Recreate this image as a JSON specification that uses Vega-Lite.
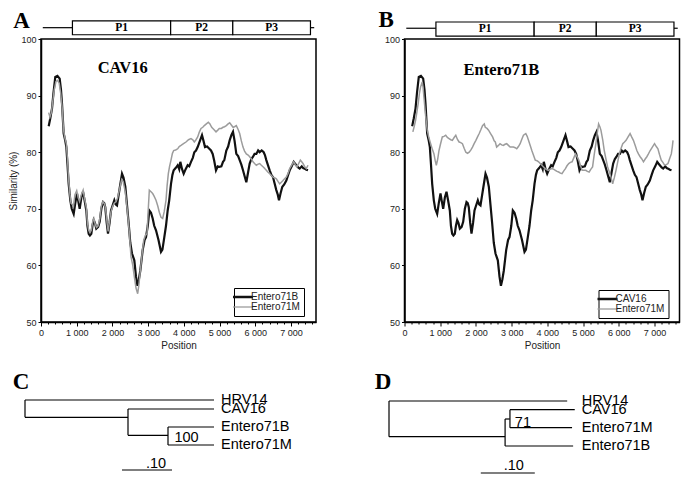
{
  "$schema": "https://vega.github.io/schema/vega-lite/v6.json",
  "padding": {"left": 8, "top": 8, "right": 5, "bottom": 5},
  "background": "#ffffff",
  "config": {
    "font": "Liberation Sans",
    "locale": {"number": {"decimal": ".", "thousands": " ", "grouping": [3], "currency": ["", ""]}},
    "view": {"stroke": null},
    "axis": {"grid": false, "labelFont": "Liberation Sans", "labelFontSize": 9, "labelColor": "#222", "domainColor": "#000", "domainWidth": 1.5, "tickColor": "#000", "tickSize": 3, "tickWidth": 1, "labelFlush": false, "labelOverlap": false, "titleFont": "Liberation Sans", "titleFontWeight": "normal", "titleFontSize": 10, "titleColor": "#222"},
    "legend": {"labelFont": "Liberation Sans", "labelFontSize": 10, "labelColor": "#222"}
  },
  "datasets": {
    "genome": [
      {"part": "5'", "kind": "line", "start": 50, "end": 880},
      {"part": "P1", "kind": "box", "start": 880, "end": 3630},
      {"part": "P2", "kind": "box", "start": 3630, "end": 5370},
      {"part": "P3", "kind": "box", "start": 5370, "end": 7545},
      {"part": "3'", "kind": "line", "start": 7545, "end": 7650}
    ],
    "cav16_e71b": [
      {"pos":215,"sim":84.6},{"pos":260,"sim":86},{"pos":308,"sim":87.7},{"pos":350,"sim":90.5},{"pos":400,"sim":93.3},{"pos":460,"sim":93.5},{"pos":523,"sim":93.0},{"pos":560,"sim":91},{"pos":588,"sim":88.6},{"pos":635,"sim":83.3},{"pos":680,"sim":82},{"pos":710,"sim":80.9},{"pos":740,"sim":78},{"pos":775,"sim":74.4},{"pos":821,"sim":71.5},{"pos":860,"sim":70},{"pos":915,"sim":69.1},{"pos":960,"sim":71},{"pos":1008,"sim":72.7},{"pos":1040,"sim":71.5},{"pos":1083,"sim":70.0},{"pos":1130,"sim":72},{"pos":1176,"sim":73.0},{"pos":1220,"sim":71.5},{"pos":1269,"sim":69.7},{"pos":1300,"sim":67},{"pos":1335,"sim":65.6},{"pos":1370,"sim":65.3},{"pos":1409,"sim":65.6},{"pos":1440,"sim":67},{"pos":1475,"sim":68.0},{"pos":1510,"sim":67.5},{"pos":1549,"sim":66.5},{"pos":1600,"sim":66.8},{"pos":1643,"sim":67.7},{"pos":1690,"sim":70},{"pos":1736,"sim":71.2},{"pos":1770,"sim":71},{"pos":1800,"sim":70.3},{"pos":1840,"sim":67.5},{"pos":1876,"sim":65.6},{"pos":1920,"sim":67.5},{"pos":1960,"sim":69.7},{"pos":2000,"sim":70.5},{"pos":2053,"sim":71.5},{"pos":2090,"sim":70.8},{"pos":2128,"sim":70.6},{"pos":2200,"sim":73.5},{"pos":2268,"sim":76.2},{"pos":2310,"sim":75.5},{"pos":2361,"sim":73.9},{"pos":2410,"sim":70.5},{"pos":2455,"sim":67.4},{"pos":2500,"sim":64},{"pos":2548,"sim":62.1},{"pos":2613,"sim":60.9},{"pos":2660,"sim":58},{"pos":2700,"sim":56.4},{"pos":2740,"sim":57.5},{"pos":2781,"sim":59.1},{"pos":2847,"sim":62.7},{"pos":2900,"sim":64.5},{"pos":2940,"sim":65.0},{"pos":2990,"sim":67},{"pos":3033,"sim":69.7},{"pos":3080,"sim":69.3},{"pos":3127,"sim":68.3},{"pos":3170,"sim":67},{"pos":3220,"sim":66.2},{"pos":3290,"sim":64.5},{"pos":3360,"sim":62.4},{"pos":3400,"sim":62.8},{"pos":3453,"sim":65.0},{"pos":3500,"sim":67},{"pos":3547,"sim":69.7},{"pos":3590,"sim":71.5},{"pos":3640,"sim":74.4},{"pos":3680,"sim":76},{"pos":3715,"sim":76.8},{"pos":3770,"sim":77.2},{"pos":3827,"sim":77.7},{"pos":3870,"sim":77},{"pos":3901,"sim":78.3},{"pos":3950,"sim":77},{"pos":3995,"sim":76.2},{"pos":4050,"sim":77},{"pos":4107,"sim":77.7},{"pos":4150,"sim":77.5},{"pos":4200,"sim":78.3},{"pos":4250,"sim":79},{"pos":4293,"sim":80.0},{"pos":4340,"sim":80.3},{"pos":4387,"sim":80.9},{"pos":4450,"sim":82},{"pos":4508,"sim":83.0},{"pos":4550,"sim":82},{"pos":4592,"sim":80.9},{"pos":4650,"sim":81},{"pos":4713,"sim":80.6},{"pos":4760,"sim":80.3},{"pos":4807,"sim":79.7},{"pos":4850,"sim":78.5},{"pos":4900,"sim":76.8},{"pos":4950,"sim":77.5},{"pos":4993,"sim":77.4},{"pos":5050,"sim":77.5},{"pos":5096,"sim":78.3},{"pos":5133,"sim":78.6},{"pos":5189,"sim":80.3},{"pos":5240,"sim":81},{"pos":5283,"sim":82.1},{"pos":5330,"sim":83},{"pos":5376,"sim":83.6},{"pos":5420,"sim":82},{"pos":5469,"sim":79.7},{"pos":5520,"sim":79.3},{"pos":5563,"sim":78.6},{"pos":5610,"sim":77.8},{"pos":5656,"sim":76.8},{"pos":5700,"sim":75.8},{"pos":5749,"sim":74.7},{"pos":5800,"sim":76.5},{"pos":5843,"sim":78.0},{"pos":5890,"sim":78.8},{"pos":5936,"sim":79.2},{"pos":5980,"sim":79.7},{"pos":6029,"sim":79.7},{"pos":6080,"sim":80.3},{"pos":6123,"sim":80.0},{"pos":6180,"sim":80.3},{"pos":6235,"sim":80.0},{"pos":6270,"sim":79.5},{"pos":6309,"sim":78.6},{"pos":6350,"sim":77.8},{"pos":6403,"sim":76.8},{"pos":6450,"sim":76},{"pos":6496,"sim":75.6},{"pos":6540,"sim":74.5},{"pos":6589,"sim":73.3},{"pos":6630,"sim":72.5},{"pos":6664,"sim":71.5},{"pos":6710,"sim":72.8},{"pos":6757,"sim":73.9},{"pos":6810,"sim":74.3},{"pos":6869,"sim":75.0},{"pos":6920,"sim":76},{"pos":6963,"sim":76.8},{"pos":7020,"sim":77.5},{"pos":7075,"sim":78.3},{"pos":7110,"sim":78},{"pos":7149,"sim":77.7},{"pos":7200,"sim":77.3},{"pos":7243,"sim":77.1},{"pos":7300,"sim":77.5},{"pos":7340,"sim":77.2},{"pos":7383,"sim":77.1},{"pos":7430,"sim":76.9},{"pos":7476,"sim":76.8}
    ],
    "cav16_e71m": [
      {"pos":215,"sim":87.0},{"pos":250,"sim":86.2},{"pos":290,"sim":87},{"pos":330,"sim":89},{"pos":370,"sim":91},{"pos":420,"sim":92.5},{"pos":467,"sim":92.7},{"pos":510,"sim":92.2},{"pos":550,"sim":90.5},{"pos":590,"sim":88},{"pos":630,"sim":84},{"pos":670,"sim":82.5},{"pos":710,"sim":81.5},{"pos":745,"sim":78.5},{"pos":775,"sim":75},{"pos":810,"sim":72.5},{"pos":840,"sim":71},{"pos":870,"sim":70.8},{"pos":910,"sim":70.5},{"pos":950,"sim":72.5},{"pos":1000,"sim":73.2},{"pos":1040,"sim":72},{"pos":1080,"sim":71.3},{"pos":1130,"sim":72.5},{"pos":1180,"sim":73.3},{"pos":1230,"sim":71.5},{"pos":1270,"sim":70.2},{"pos":1300,"sim":67.5},{"pos":1335,"sim":66.2},{"pos":1370,"sim":65.8},{"pos":1410,"sim":66.2},{"pos":1450,"sim":67.8},{"pos":1480,"sim":68.3},{"pos":1520,"sim":67.2},{"pos":1555,"sim":66.7},{"pos":1600,"sim":67},{"pos":1645,"sim":68.2},{"pos":1690,"sim":70.5},{"pos":1735,"sim":71.3},{"pos":1780,"sim":70.8},{"pos":1810,"sim":70},{"pos":1850,"sim":67.5},{"pos":1880,"sim":66},{"pos":1920,"sim":67.8},{"pos":1960,"sim":69.5},{"pos":2010,"sim":70.5},{"pos":2050,"sim":71},{"pos":2100,"sim":71.3},{"pos":2140,"sim":71.8},{"pos":2200,"sim":73.5},{"pos":2260,"sim":75.2},{"pos":2300,"sim":74.8},{"pos":2360,"sim":73},{"pos":2420,"sim":69.5},{"pos":2470,"sim":66},{"pos":2520,"sim":61.5},{"pos":2570,"sim":60},{"pos":2613,"sim":58.0},{"pos":2660,"sim":56},{"pos":2707,"sim":55.0},{"pos":2740,"sim":56.5},{"pos":2781,"sim":59.1},{"pos":2830,"sim":62},{"pos":2875,"sim":64.4},{"pos":2920,"sim":65.3},{"pos":2968,"sim":65.6},{"pos":3000,"sim":69.5},{"pos":3033,"sim":73.3},{"pos":3080,"sim":73},{"pos":3127,"sim":72.7},{"pos":3170,"sim":72.2},{"pos":3220,"sim":71.5},{"pos":3270,"sim":70.5},{"pos":3313,"sim":69.4},{"pos":3360,"sim":68.5},{"pos":3407,"sim":68.3},{"pos":3450,"sim":69.5},{"pos":3500,"sim":71.5},{"pos":3530,"sim":74},{"pos":3565,"sim":76.2},{"pos":3600,"sim":77.5},{"pos":3640,"sim":78.6},{"pos":3680,"sim":79.8},{"pos":3715,"sim":80.3},{"pos":3770,"sim":80.4},{"pos":3827,"sim":80.6},{"pos":3870,"sim":81},{"pos":3920,"sim":81.2},{"pos":3990,"sim":81.5},{"pos":4060,"sim":81.8},{"pos":4130,"sim":82.2},{"pos":4200,"sim":82.4},{"pos":4250,"sim":82.2},{"pos":4293,"sim":81.8},{"pos":4340,"sim":82.2},{"pos":4387,"sim":82.7},{"pos":4430,"sim":83.5},{"pos":4480,"sim":84.2},{"pos":4530,"sim":84.4},{"pos":4573,"sim":84.7},{"pos":4630,"sim":85},{"pos":4685,"sim":85.3},{"pos":4730,"sim":85},{"pos":4779,"sim":84.4},{"pos":4840,"sim":84},{"pos":4900,"sim":83.6},{"pos":4950,"sim":83.9},{"pos":4993,"sim":84.2},{"pos":5050,"sim":84.2},{"pos":5096,"sim":84.4},{"pos":5140,"sim":84.5},{"pos":5189,"sim":84.7},{"pos":5240,"sim":85},{"pos":5283,"sim":85.2},{"pos":5330,"sim":84.8},{"pos":5376,"sim":84.4},{"pos":5420,"sim":84.5},{"pos":5469,"sim":84.7},{"pos":5520,"sim":84},{"pos":5563,"sim":83.3},{"pos":5610,"sim":82},{"pos":5656,"sim":80.9},{"pos":5700,"sim":80.2},{"pos":5749,"sim":79.7},{"pos":5800,"sim":79.5},{"pos":5843,"sim":79.2},{"pos":5890,"sim":78.8},{"pos":5936,"sim":78.3},{"pos":5980,"sim":78},{"pos":6029,"sim":77.7},{"pos":6080,"sim":77.9},{"pos":6123,"sim":78.0},{"pos":6170,"sim":77.7},{"pos":6224,"sim":77.4},{"pos":6265,"sim":77.1},{"pos":6309,"sim":76.8},{"pos":6350,"sim":76.5},{"pos":6403,"sim":76.2},{"pos":6450,"sim":75.9},{"pos":6496,"sim":75.6},{"pos":6540,"sim":75.5},{"pos":6589,"sim":75.3},{"pos":6640,"sim":74.8},{"pos":6683,"sim":74.4},{"pos":6730,"sim":74.7},{"pos":6776,"sim":75.0},{"pos":6820,"sim":75.3},{"pos":6869,"sim":75.6},{"pos":6920,"sim":76.3},{"pos":6963,"sim":77.1},{"pos":7020,"sim":77.7},{"pos":7075,"sim":78.3},{"pos":7120,"sim":77.8},{"pos":7168,"sim":77.4},{"pos":7215,"sim":78},{"pos":7261,"sim":78.6},{"pos":7300,"sim":78.3},{"pos":7336,"sim":78.0},{"pos":7380,"sim":77.5},{"pos":7429,"sim":77.1},{"pos":7476,"sim":77.7}
    ],
    "e71b_e71m": [
      {"pos":234,"sim":83.6},{"pos":270,"sim":84.5},{"pos":309,"sim":85.6},{"pos":345,"sim":87},{"pos":383,"sim":88.6},{"pos":420,"sim":90.5},{"pos":450,"sim":91.5},{"pos":496,"sim":92.4},{"pos":520,"sim":91.5},{"pos":543,"sim":89.8},{"pos":590,"sim":86.5},{"pos":637,"sim":83.9},{"pos":685,"sim":82.5},{"pos":732,"sim":81.5},{"pos":780,"sim":80.5},{"pos":825,"sim":79.7},{"pos":860,"sim":78.5},{"pos":891,"sim":77.7},{"pos":930,"sim":78.8},{"pos":966,"sim":80.3},{"pos":1010,"sim":81.5},{"pos":1059,"sim":82.7},{"pos":1105,"sim":82.8},{"pos":1154,"sim":83.0},{"pos":1200,"sim":82.6},{"pos":1247,"sim":82.4},{"pos":1295,"sim":82.2},{"pos":1340,"sim":82.1},{"pos":1390,"sim":82.6},{"pos":1436,"sim":83.0},{"pos":1480,"sim":82.3},{"pos":1529,"sim":81.8},{"pos":1575,"sim":81.7},{"pos":1622,"sim":81.5},{"pos":1670,"sim":80.7},{"pos":1718,"sim":80.0},{"pos":1765,"sim":79.8},{"pos":1811,"sim":80.0},{"pos":1860,"sim":80.4},{"pos":1904,"sim":80.9},{"pos":1950,"sim":81.5},{"pos":1999,"sim":82.1},{"pos":2045,"sim":82.7},{"pos":2092,"sim":83.3},{"pos":2140,"sim":84},{"pos":2185,"sim":84.7},{"pos":2233,"sim":85.0},{"pos":2261,"sim":84.4},{"pos":2310,"sim":84.2},{"pos":2354,"sim":83.9},{"pos":2410,"sim":83.3},{"pos":2467,"sim":82.7},{"pos":2510,"sim":82},{"pos":2543,"sim":81.8},{"pos":2580,"sim":80.9},{"pos":2630,"sim":81.2},{"pos":2675,"sim":81.5},{"pos":2720,"sim":81.3},{"pos":2768,"sim":81.2},{"pos":2815,"sim":81.4},{"pos":2861,"sim":81.5},{"pos":2910,"sim":81.2},{"pos":2957,"sim":80.9},{"pos":3000,"sim":80.9},{"pos":3050,"sim":80.9},{"pos":3100,"sim":80.8},{"pos":3143,"sim":80.6},{"pos":3190,"sim":81},{"pos":3238,"sim":81.5},{"pos":3285,"sim":82.3},{"pos":3331,"sim":83.0},{"pos":3396,"sim":83.3},{"pos":3435,"sim":82.8},{"pos":3472,"sim":82.1},{"pos":3520,"sim":81.2},{"pos":3565,"sim":80.3},{"pos":3610,"sim":79.5},{"pos":3661,"sim":78.6},{"pos":3710,"sim":78.5},{"pos":3754,"sim":78.3},{"pos":3800,"sim":78},{"pos":3847,"sim":77.7},{"pos":3895,"sim":77.4},{"pos":3942,"sim":77.1},{"pos":3990,"sim":76.9},{"pos":4035,"sim":76.8},{"pos":4080,"sim":77},{"pos":4128,"sim":77.1},{"pos":4175,"sim":77},{"pos":4224,"sim":76.8},{"pos":4270,"sim":76.6},{"pos":4317,"sim":76.5},{"pos":4365,"sim":76.3},{"pos":4410,"sim":76.2},{"pos":4460,"sim":76.7},{"pos":4506,"sim":77.1},{"pos":4550,"sim":77.6},{"pos":4599,"sim":78.0},{"pos":4645,"sim":78.2},{"pos":4692,"sim":78.3},{"pos":4740,"sim":79},{"pos":4787,"sim":79.7},{"pos":4830,"sim":79.2},{"pos":4880,"sim":78.6},{"pos":4925,"sim":77.7},{"pos":4973,"sim":76.8},{"pos":5020,"sim":76.8},{"pos":5077,"sim":76.8},{"pos":5120,"sim":76.6},{"pos":5170,"sim":76.5},{"pos":5220,"sim":77},{"pos":5266,"sim":77.4},{"pos":5310,"sim":79.5},{"pos":5359,"sim":81.5},{"pos":5400,"sim":83.5},{"pos":5435,"sim":85.0},{"pos":5470,"sim":84.5},{"pos":5500,"sim":83.9},{"pos":5550,"sim":82.2},{"pos":5593,"sim":80.3},{"pos":5640,"sim":78.8},{"pos":5688,"sim":77.4},{"pos":5735,"sim":76.5},{"pos":5781,"sim":75.6},{"pos":5829,"sim":74.4},{"pos":5875,"sim":75.5},{"pos":5922,"sim":76.8},{"pos":5970,"sim":78.3},{"pos":6015,"sim":79.7},{"pos":6060,"sim":80.6},{"pos":6111,"sim":81.5},{"pos":6160,"sim":81.8},{"pos":6204,"sim":82.1},{"pos":6260,"sim":82.7},{"pos":6316,"sim":83.3},{"pos":6360,"sim":82.7},{"pos":6409,"sim":82.1},{"pos":6460,"sim":81.2},{"pos":6505,"sim":80.3},{"pos":6550,"sim":79.7},{"pos":6598,"sim":79.2},{"pos":6645,"sim":78.8},{"pos":6691,"sim":78.3},{"pos":6740,"sim":78.8},{"pos":6786,"sim":79.2},{"pos":6830,"sim":79.7},{"pos":6879,"sim":80.3},{"pos":6940,"sim":80.9},{"pos":7001,"sim":81.5},{"pos":7050,"sim":81},{"pos":7096,"sim":80.6},{"pos":7140,"sim":79.6},{"pos":7189,"sim":78.6},{"pos":7235,"sim":78.2},{"pos":7282,"sim":77.7},{"pos":7330,"sim":77.8},{"pos":7378,"sim":78.0},{"pos":7420,"sim":78.8},{"pos":7471,"sim":79.7},{"pos":7500,"sim":81},{"pos":7519,"sim":82.1}
    ],
    "treeC_branches": [
      {"x":0,"x2":0.378,"y":0,"y2":0},
      {"x":0,"x2":0,"y":0,"y2":0.96},
      {"x":0,"x2":0.206,"y":0.96,"y2":0.96},
      {"x":0.206,"x2":0.206,"y":0.5,"y2":1.96},
      {"x":0.206,"x2":0.378,"y":0.5,"y2":0.5},
      {"x":0.206,"x2":0.286,"y":1.96,"y2":1.96},
      {"x":0.286,"x2":0.286,"y":1.5,"y2":2.5},
      {"x":0.286,"x2":0.378,"y":1.5,"y2":1.5},
      {"x":0.286,"x2":0.378,"y":2.5,"y2":2.5}
    ],
    "treeC_leaves": [
      {"taxon":"HRV14","row":0},{"taxon":"CAV16","row":0.5},{"taxon":"Entero71B","row":1.5},{"taxon":"Entero71M","row":2.5}
    ],
    "treeD_branches": [
      {"x":0,"x2":0.330,"y":0,"y2":0},
      {"x":0,"x2":0,"y":0,"y2":1.98},
      {"x":0,"x2":0.215,"y":1.98,"y2":1.98},
      {"x":0.215,"x2":0.215,"y":1.0,"y2":2.5},
      {"x":0.215,"x2":0.224,"y":1.0,"y2":1.0},
      {"x":0.224,"x2":0.224,"y":0.48,"y2":1.48},
      {"x":0.224,"x2":0.344,"y":0.48,"y2":0.48},
      {"x":0.224,"x2":0.339,"y":1.48,"y2":1.48},
      {"x":0.215,"x2":0.341,"y":2.5,"y2":2.5}
    ],
    "treeD_leaves": [
      {"taxon":"HRV14","row":0},{"taxon":"CAV16","row":0.48},{"taxon":"Entero71M","row":1.48},{"taxon":"Entero71B","row":2.5}
    ]
  },
  "columns": 2,
  "spacing": {"row": 49, "column": 88.5},
  "bounds": "flush",
  "align": "each",
  "concat": [
    {
      "width": 275, "height": 283,
      "view": {"stroke": "#000", "strokeWidth": 1.5},
      "resolve": {"axis": {"x": "independent"}},
      "layer": [
        {
          "data": {"name": "cav16_e71b"},
          "mark": {"type": "line", "strokeWidth": 2.2, "clip": true},
          "encoding": {
            "x": {"field": "pos", "type": "quantitative", "scale": {"domain": [0, 7700], "nice": false, "zero": false},
                  "axis": {"orient": "bottom", "title": "Position", "format": ",d", "labelOverlap": false, "tickCount": 8, "tickSize": 4, "labelPadding": 2, "titlePadding": 3}},
            "y": {"field": "sim", "type": "quantitative", "scale": {"domain": [50, 100], "nice": false, "zero": false},
                  "axis": {"title": "Similarity (%)", "labelOverlap": false, "values": [50,55,60,65,70,75,80,85,90,95,100], "labelExpr": "datum.value % 10 === 0 ? datum.label : ''", "labelPadding": 2, "titlePadding": 2}},
            "color": {"datum": "Entero71B", "type": "nominal",
                      "scale": {"domain": ["Entero71B", "Entero71M"], "range": ["#111111", "#9c9c9c"]},
                      "legend": {"title": null, "orient": "none", "legendX": 193, "legendY": 249, "symbolType": "stroke", "symbolSize": 400, "symbolStrokeWidth": 2, "padding": 4, "rowPadding": 0, "labelOffset": 3, "strokeColor": "#000", "fillColor": "#fff",
                                 "encode": {"symbols": {"update": {"strokeWidth": {"signal": "datum.value === 'Entero71M' ? 1.3 : 2.5"}}}}}}
          }
        },
        {
          "data": {"name": "cav16_e71m"},
          "mark": {"type": "line", "strokeWidth": 1.5, "clip": true},
          "encoding": {
            "x": {"field": "pos", "type": "quantitative",
                  "axis": {"orient": "bottom", "title": null, "labels": false, "domain": false, "tickSize": 2, "values": [200,400,600,800,1200,1400,1600,1800,2200,2400,2600,2800,3200,3400,3600,3800,4200,4400,4600,4800,5200,5400,5600,5800,6200,6400,6600,6800,7200,7400,7600]}},
            "y": {"field": "sim", "type": "quantitative"},
            "color": {"datum": "Entero71M", "type": "nominal"}
          }
        },
        {
          "data": {"name": "genome"},
          "transform": [{"filter": "datum.kind === 'line'"}],
          "mark": {"type": "rule", "color": "#000", "strokeWidth": 1.2, "clip": false},
          "encoding": {"x": {"field": "start", "type": "quantitative", "axis": null}, "x2": {"field": "end"}, "y": {"datum": 102.0, "type": "quantitative"}}
        },
        {
          "data": {"name": "genome"},
          "transform": [{"filter": "datum.kind === 'box'"}],
          "mark": {"type": "rect", "fill": "#fff", "stroke": "#000", "strokeWidth": 1.2, "clip": false},
          "encoding": {"x": {"field": "start", "type": "quantitative", "axis": null}, "x2": {"field": "end"}, "y": {"datum": 100.75, "type": "quantitative"}, "y2": {"datum": 103.2}}
        },
        {
          "data": {"name": "genome"},
          "transform": [{"filter": "datum.kind === 'box'"}, {"calculate": "(datum.start + datum.end) / 2", "as": "mid"}],
          "mark": {"type": "text", "font": "Liberation Serif", "fontWeight": "bold", "fontSize": 11.5, "color": "#000", "baseline": "middle", "clip": false},
          "encoding": {"x": {"field": "mid", "type": "quantitative", "axis": null}, "y": {"datum": 101.95, "type": "quantitative"}, "text": {"field": "part"}}
        },
        {
          "data": {"values": [{}]},
          "mark": {"type": "text", "font": "Liberation Serif", "fontWeight": "bold", "fontSize": 23, "color": "#000", "baseline": "middle", "clip": false},
          "encoding": {"x": {"datum": -546, "type": "quantitative", "axis": null}, "y": {"datum": 103.2, "type": "quantitative"}, "text": {"value": "A"}}
        },
        {
          "data": {"values": [{}]},
          "mark": {"type": "text", "font": "Liberation Serif", "fontWeight": "bold", "fontSize": 16.5, "color": "#000", "baseline": "middle"},
          "encoding": {"x": {"datum": 2288, "type": "quantitative", "axis": null}, "y": {"datum": 94.9, "type": "quantitative"}, "text": {"value": "CAV16"}}
        }
      ]
    },
    {
      "width": 275, "height": 283,
      "view": {"stroke": "#000", "strokeWidth": 1.5},
      "resolve": {"axis": {"x": "independent"}},
      "layer": [
        {
          "data": {"name": "cav16_e71b"},
          "mark": {"type": "line", "strokeWidth": 2.2, "clip": true},
          "encoding": {
            "x": {"field": "pos", "type": "quantitative", "scale": {"domain": [0, 7700], "nice": false, "zero": false},
                  "axis": {"orient": "bottom", "title": "Position", "format": ",d", "labelOverlap": false, "tickCount": 8, "tickSize": 4, "labelPadding": 2, "titlePadding": 3}},
            "y": {"field": "sim", "type": "quantitative", "scale": {"domain": [50, 100], "nice": false, "zero": false},
                  "axis": {"title": "", "labelOverlap": false, "values": [50,55,60,65,70,75,80,85,90,95,100], "labelExpr": "datum.value % 10 === 0 ? datum.label : ''", "labelPadding": 2}},
            "color": {"datum": "CAV16", "type": "nominal",
                      "scale": {"domain": ["CAV16", "Entero71M"], "range": ["#111111", "#9c9c9c"]},
                      "legend": {"title": null, "orient": "none", "legendX": 194, "legendY": 251, "symbolType": "stroke", "symbolSize": 400, "symbolStrokeWidth": 2, "padding": 4, "rowPadding": 0, "labelOffset": 3, "strokeColor": "#000", "fillColor": "#fff",
                                 "encode": {"symbols": {"update": {"strokeWidth": {"signal": "datum.value === 'Entero71M' ? 1.3 : 2.5"}}}}}}
          }
        },
        {
          "data": {"name": "e71b_e71m"},
          "mark": {"type": "line", "strokeWidth": 1.5, "clip": true},
          "encoding": {
            "x": {"field": "pos", "type": "quantitative",
                  "axis": {"orient": "bottom", "title": null, "labels": false, "domain": false, "tickSize": 2, "values": [200,400,600,800,1200,1400,1600,1800,2200,2400,2600,2800,3200,3400,3600,3800,4200,4400,4600,4800,5200,5400,5600,5800,6200,6400,6600,6800,7200,7400,7600]}},
            "y": {"field": "sim", "type": "quantitative"},
            "color": {"datum": "Entero71M", "type": "nominal"}
          }
        },
        {
          "data": {"name": "genome"},
          "transform": [{"filter": "datum.kind === 'line'"}],
          "mark": {"type": "rule", "color": "#000", "strokeWidth": 1.2, "clip": false},
          "encoding": {"x": {"field": "start", "type": "quantitative", "axis": null}, "x2": {"field": "end"}, "y": {"datum": 101.9, "type": "quantitative"}}
        },
        {
          "data": {"name": "genome"},
          "transform": [{"filter": "datum.kind === 'box'"}],
          "mark": {"type": "rect", "fill": "#fff", "stroke": "#000", "strokeWidth": 1.2, "clip": false},
          "encoding": {"x": {"field": "start", "type": "quantitative", "axis": null}, "x2": {"field": "end"}, "y": {"datum": 100.5, "type": "quantitative"}, "y2": {"datum": 103.0}}
        },
        {
          "data": {"name": "genome"},
          "transform": [{"filter": "datum.kind === 'box'"}, {"calculate": "(datum.start + datum.end) / 2", "as": "mid"}],
          "mark": {"type": "text", "font": "Liberation Serif", "fontWeight": "bold", "fontSize": 11.5, "color": "#000", "baseline": "middle", "clip": false},
          "encoding": {"x": {"field": "mid", "type": "quantitative", "axis": null}, "y": {"datum": 101.75, "type": "quantitative"}, "text": {"field": "part"}}
        },
        {
          "data": {"values": [{}]},
          "mark": {"type": "text", "font": "Liberation Serif", "fontWeight": "bold", "fontSize": 23, "color": "#000", "baseline": "middle", "clip": false},
          "encoding": {"x": {"datum": -512, "type": "quantitative", "axis": null}, "y": {"datum": 103.3, "type": "quantitative"}, "text": {"value": "B"}}
        },
        {
          "data": {"values": [{}]},
          "mark": {"type": "text", "font": "Liberation Serif", "fontWeight": "bold", "fontSize": 16.5, "color": "#000", "baseline": "middle"},
          "encoding": {"x": {"datum": 2712, "type": "quantitative", "axis": null}, "y": {"datum": 94.6, "type": "quantitative"}, "text": {"value": "Entero71B"}}
        }
      ]
    },
    {
      "width": 275, "height": 105,
      "layer": [
        {
          "data": {"name": "treeC_branches"},
          "mark": {"type": "rule", "color": "#000", "strokeWidth": 1.2},
          "encoding": {
            "x": {"field": "x", "type": "quantitative", "scale": {"domain": [0.032, 0.582], "nice": false, "zero": false}, "axis": null},
            "x2": {"field": "x2"},
            "y": {"field": "y", "type": "quantitative", "scale": {"domain": [-1.611, 4.222], "reverse": true, "nice": false, "zero": false}, "axis": null},
            "y2": {"field": "y2"}
          }
        },
        {
          "data": {"name": "treeC_leaves"},
          "mark": {"type": "text", "align": "left", "baseline": "middle", "font": "Liberation Sans", "fontSize": 14.5, "color": "#000"},
          "encoding": {"x": {"datum": 0.392, "type": "quantitative", "axis": null}, "y": {"field": "row", "type": "quantitative", "axis": null}, "text": {"field": "taxon"}}
        },
        {
          "data": {"values": [{"node": "Entero71B+Entero71M", "support": "100"}]},
          "mark": {"type": "text", "align": "center", "baseline": "middle", "font": "Liberation Sans", "fontSize": 14.5, "color": "#000"},
          "encoding": {"x": {"datum": 0.323, "type": "quantitative", "axis": null}, "y": {"datum": 2.1, "type": "quantitative", "axis": null}, "text": {"field": "support"}}
        },
        {
          "data": {"values": [{}]},
          "mark": {"type": "rule", "color": "#000", "strokeWidth": 1.2},
          "encoding": {"x": {"datum": 0.194, "type": "quantitative", "axis": null}, "x2": {"datum": 0.294}, "y": {"datum": 3.89, "type": "quantitative", "axis": null}}
        },
        {
          "data": {"values": [{}]},
          "mark": {"type": "text", "align": "center", "baseline": "middle", "font": "Liberation Sans", "fontSize": 14.5, "color": "#000"},
          "encoding": {"x": {"datum": 0.262, "type": "quantitative", "axis": null}, "y": {"datum": 3.56, "type": "quantitative", "axis": null}, "text": {"value": ".10"}}
        },
        {
          "data": {"values": [{}]},
          "mark": {"type": "text", "align": "center", "baseline": "middle", "font": "Liberation Serif", "fontWeight": "bold", "fontSize": 23, "color": "#000"},
          "encoding": {"x": {"datum": -0.008, "type": "quantitative", "axis": null}, "y": {"datum": -1.0, "type": "quantitative", "axis": null}, "text": {"value": "C"}}
        }
      ]
    },
    {
      "width": 275, "height": 105,
      "layer": [
        {
          "data": {"name": "treeD_branches"},
          "mark": {"type": "rule", "color": "#000", "strokeWidth": 1.2},
          "encoding": {
            "x": {"field": "x", "type": "quantitative", "scale": {"domain": [0.0287, 0.5380], "nice": false, "zero": false}, "axis": null},
            "x2": {"field": "x2"},
            "y": {"field": "y", "type": "quantitative", "scale": {"domain": [-1.667, 4.167], "reverse": true, "nice": false, "zero": false}, "axis": null},
            "y2": {"field": "y2"}
          }
        },
        {
          "data": {"name": "treeD_leaves"},
          "mark": {"type": "text", "align": "left", "baseline": "middle", "font": "Liberation Sans", "fontSize": 14.5, "color": "#000"},
          "encoding": {"x": {"datum": 0.357, "type": "quantitative", "axis": null}, "y": {"field": "row", "type": "quantitative", "axis": null}, "text": {"field": "taxon"}}
        },
        {
          "data": {"values": [{"node": "CAV16+Entero71M", "support": "71"}]},
          "mark": {"type": "text", "align": "center", "baseline": "middle", "font": "Liberation Sans", "fontSize": 14.5, "color": "#000"},
          "encoding": {"x": {"datum": 0.248, "type": "quantitative", "axis": null}, "y": {"datum": 1.22, "type": "quantitative", "axis": null}, "text": {"field": "support"}}
        },
        {
          "data": {"values": [{}]},
          "mark": {"type": "rule", "color": "#000", "strokeWidth": 1.2},
          "encoding": {"x": {"datum": 0.170, "type": "quantitative", "axis": null}, "x2": {"datum": 0.270}, "y": {"datum": 4.0, "type": "quantitative", "axis": null}}
        },
        {
          "data": {"values": [{}]},
          "mark": {"type": "text", "align": "center", "baseline": "middle", "font": "Liberation Sans", "fontSize": 14.5, "color": "#000"},
          "encoding": {"x": {"datum": 0.231, "type": "quantitative", "axis": null}, "y": {"datum": 3.61, "type": "quantitative", "axis": null}, "text": {"value": ".10"}}
        },
        {
          "data": {"values": [{}]},
          "mark": {"type": "text", "align": "center", "baseline": "middle", "font": "Liberation Serif", "fontWeight": "bold", "fontSize": 23, "color": "#000"},
          "encoding": {"x": {"datum": -0.011, "type": "quantitative", "axis": null}, "y": {"datum": -1.06, "type": "quantitative", "axis": null}, "text": {"value": "D"}}
        }
      ]
    }
  ],
  "resolve": {"scale": {"color": "independent", "x": "independent", "y": "independent"}, "legend": {"color": "independent"}}
}
